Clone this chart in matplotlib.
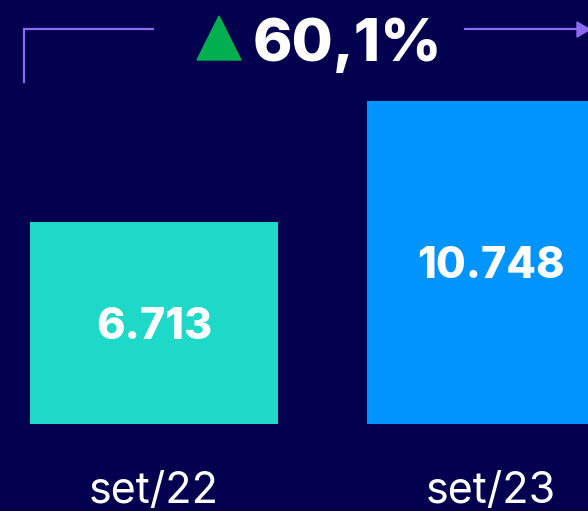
import matplotlib
matplotlib.use("Agg")
import matplotlib.pyplot as plt
from matplotlib.patches import Polygon
from matplotlib.lines import Line2D

categories = ["set/22", "set/23"]
values = [6713, 10748]
value_labels = ["6.713", "10.748"]
bar_colors = ["#1ED8C8", "#0094FF"]
change_label = "60,1%"

BG = "#02004F"
LINE = "#8B6CF0"
W, H = 588, 511

fig = plt.figure(figsize=(W / 100, H / 100), dpi=100, facecolor=BG)
ax = fig.add_axes([0, 0, 1, 1])
ax.set_facecolor(BG)

x = list(range(len(categories)))
ax.bar(x, values, width=0.7359, color=bar_colors)
ax.set_xlim(-0.457, 1.288)
ax.set_ylim(-2891, 14091)
ax.axis("off")

for xi, v, lab in zip(x, values, value_labels):
    ax.annotate(lab, (xi, v / 2), xytext=(0, -3), textcoords="offset points",
                ha="center", va="center", color="white",
                fontsize=31, fontweight=800, family="Inter")

for xi, cat in zip(x, categories):
    ax.annotate(cat, (xi, -2891), xytext=(0, 6), textcoords="offset points",
                ha="center", va="baseline", color="white",
                fontsize=31, family="Inter")


def px(xp, yp):
    return (xp / W, 1 - yp / H)


# left bracket
fig.add_artist(Line2D([px(23.5, 0)[0], px(153, 0)[0]], [px(0, 29.5)[1]] * 2,
                      transform=fig.transFigure, color=LINE, lw=1.6))
fig.add_artist(Line2D([px(23.5, 0)[0]] * 2, [px(0, 29.5)[1], px(0, 82)[1]],
                      transform=fig.transFigure, color=LINE, lw=1.6))
# right arrow
fig.add_artist(Line2D([px(465, 0)[0], px(580, 0)[0]], [px(0, 29.5)[1]] * 2,
                      transform=fig.transFigure, color=LINE, lw=1.6))
fig.add_artist(Polygon([px(577, 22), px(577, 37), px(590, 29.5)], closed=True,
                       transform=fig.transFigure, color=LINE))
# green triangle
fig.add_artist(Polygon([px(197, 60), px(241, 60), px(219, 16)], closed=True,
                       transform=fig.transFigure, color="#00B050"))

fig.text(px(253, 0)[0], px(0, 61)[1], change_label, ha="left", va="baseline",
         color="white", fontsize=43, fontweight=800, family="Inter")

fig.savefig("out.png", dpi=100, facecolor=BG)
